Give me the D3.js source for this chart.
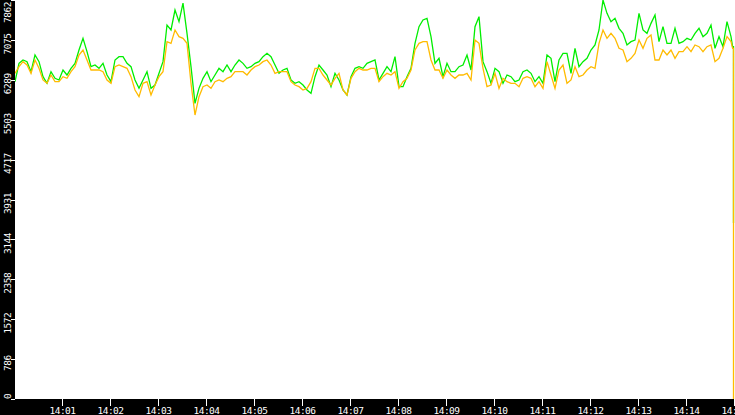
<!DOCTYPE html>
<html>
  <head>
    <meta charset="utf-8">
    <title></title>
  </head>

  <body>
  <style media="screen">
    *{
      box-sizing:border-box;
    }
    html, body {
      margin:0;
      padding:0;
      background:#fff;
      overflow:hidden;
    }
    svg {
      display:block;
    }
    .lbl {
      font-family:"DejaVu Sans Mono", monospace;
      font-size:9.5px;
      letter-spacing:-0.5px;
      fill:#fff;
    }
  </style>

<svg id="chart1" width="735" height="415"></svg>
    <script src="https://d3js.org/d3.v7.min.js"></script>
    <script type="text/javascript">
    // samples are 5 s apart, starting 14:00:00; the tail is the drop at the right edge
    var stepSec = 5;
    var tailSec = [897, 898.125, 898.125];

    var green = [
      6253,6614,6680,6647,6450,6778,6647,6351,6220,6450,
      6319,6286,6483,6384,6516,6614,6877,7107,6844,6548,
      6581,6516,6614,6384,6253,6680,6745,6745,6614,6548,
      6286,6121,6286,6450,6121,6187,6417,6647,7369,7271,
      7665,7435,7800,7205,6548,
      5826,6121,6319,6450,6253,6384,6516,6450,6581,6450,
      6581,6680,6614,6516,6548,6614,6647,6745,6811,6745,
      6581,6417,6483,6516,6286,6220,6253,6187,6089,6023,
      6351,6581,6483,6384,6154,6417,6286,6089,5990,6351,
      6516,6548,6516,6614,6647,
      6680,6286,6417,6548,6450,6745,6154,6154,6351,6516,
      7008,7337,7468,7501,7140,6614,6713,6351,6614,6450,
      6450,6548,6581,6778,6483,7337,7534,6647,6450,6220,
      6516,6450,6220,6384,6351,6253,6286,6450,6483,6417,
      6253,6351,6220,6778,6713,
      6253,6680,6811,6811,6417,6910,6548,6647,6713,6877,
      6975,7271,7862,7599,7435,7501,7304,7205,6975,7041,
      7074,7599,7271,7205,7402,7566,7041,7337,7008,7008,
      7304,7008,7041,7107,7074,7205,7304,7140,7205,7369,
      6910,7140,6942,7435,7140
    ];
    var greenTail = [6942, 6942, 3470];

    var orange = [
      6417,6548,6647,6581,6417,6680,6516,6286,6220,6384,
      6253,6253,6351,6319,6450,6548,6778,6877,6680,6483,
      6483,6483,6450,6286,6220,6548,6581,6548,6516,6351,
      6089,5957,6220,6253,5990,6187,6351,6450,7041,7008,
      7271,7140,7107,7008,6220,
      5596,5957,6154,6187,6121,6253,6286,6253,6319,6351,
      6450,6450,6450,6384,6483,6548,6581,6647,6680,6581,
      6417,6450,6450,6450,6253,6187,6154,6089,6121,6253,
      6516,6516,6384,6286,6187,6319,6417,6089,5990,6319,
      6450,6516,6483,6483,6516,
      6516,6253,6351,6417,6384,6450,6121,6253,6319,6483,
      6877,7008,7041,7041,6680,6483,6483,6319,6483,6384,
      6319,6384,6384,6417,6286,7074,7008,6516,6154,6187,
      6417,6121,6319,6253,6220,6220,6154,6319,6351,6319,
      6154,6253,6121,6647,6384,
      6121,6483,6581,6220,6286,6548,6351,6384,6483,6548,
      6516,7008,7271,7107,7205,7107,6910,6877,6647,6713,
      6811,7074,6910,7107,7173,6680,6680,6877,6778,6877,
      6713,6844,6844,6942,6844,6975,6942,6844,6942,6975,
      6647,6713,6910,7140,7041
    ];
    var orangeTail = [6910, 6910, 0];

    var yTickLabels = [0,786,1572,2358,3144,3931,4717,5503,6289,7075,7862];
    var xTickLabels = ['14:01','14:02','14:03','14:04','14:05','14:06','14:07',
                       '14:08','14:09','14:10','14:11','14:12','14:13','14:14','14:15'];

    var W = 735, H = 415;
    var left = 15, bottom = 399;
    var t0 = new Date(2024, 0, 1, 14, 0, 0);
    var t1 = new Date(2024, 0, 1, 14, 15, 0);

    function at(sec){ return new Date(t0.getTime() + sec*1000); }

    function rows(vals, tail){
      var r = vals.map((v,i) => ({t:at(i*stepSec), v:v}));
      tail.forEach((v,i) => r.push({t:at(tailSec[i]), v:v}));
      return r;
    }

    var x = d3.scaleTime().domain([t0, t1]).range([left, W]);
    var y = d3.scaleLinear().domain([0, 7862]).range([bottom, 0]);

    var svg = d3.select('#chart1');

    svg.append('rect')
      .attr('x', left).attr('y', 0)
      .attr('width', W-left).attr('height', bottom)
      .attr('fill', '#fff');

    svg.append('clipPath').attr('id', 'plot')
      .append('rect')
      .attr('x', left).attr('y', 0)
      .attr('width', W-left).attr('height', bottom);

    var line = d3.line()
      .x(d => x(d.t))
      .y(d => y(d.v));

    var g = svg.append('g').attr('clip-path', 'url(#plot)');

    g.append('path')
      .datum(rows(green, greenTail))
      .attr('d', line)
      .attr('fill', 'none')
      .attr('stroke', '#00ee00')
      .attr('stroke-width', 1.3);

    g.append('path')
      .datum(rows(orange, orangeTail))
      .attr('d', line)
      .attr('fill', 'none')
      .attr('stroke', '#ffbb00')
      .attr('stroke-width', 1.3);

    // black axis strips
    svg.append('rect')
      .attr('x', 0).attr('y', 0)
      .attr('width', left).attr('height', H)
      .attr('fill', '#000');
    svg.append('rect')
      .attr('x', 0).attr('y', bottom)
      .attr('width', W).attr('height', H-bottom)
      .attr('fill', '#000');

    // left axis
    var yt = svg.append('g').selectAll('g')
      .data(yTickLabels)
      .enter().append('g');

    yt.append('line')
      .attr('x1', 11).attr('x2', left)
      .attr('y1', d => Math.round(y(d)) + 0.5)
      .attr('y2', d => Math.round(y(d)) + 0.5)
      .attr('stroke', '#fff')
      .attr('stroke-width', 1);

    yt.append('text')
      .attr('class', 'lbl')
      .attr('text-anchor', 'middle')
      .text(d => d)
      .each(function(d){
        var len = this.getComputedTextLength();
        var c = y(d) + 4;
        if (c - len/2 < 2) c = 2 + len/2;
        if (c + len/2 > bottom) c = bottom - len/2;
        d3.select(this).attr('transform', 'translate(10.5,' + c + ') rotate(-90)');
      });

    // bottom axis
    var xt = svg.append('g').selectAll('g')
      .data(xTickLabels)
      .enter().append('g')
      .attr('transform', d => 'translate(' + (Math.round(x(new Date(2024,0,1,+d.slice(0,2),+d.slice(3)))) - 0.5) + ',0)');

    xt.append('line')
      .attr('y1', bottom).attr('y2', bottom + 7)
      .attr('stroke', '#fff')
      .attr('stroke-width', 1);

    xt.append('text')
      .attr('class', 'lbl')
      .attr('text-anchor', 'middle')
      .attr('y', 413.5)
      .text(d => d);
    </script>

  </body>
</html>
